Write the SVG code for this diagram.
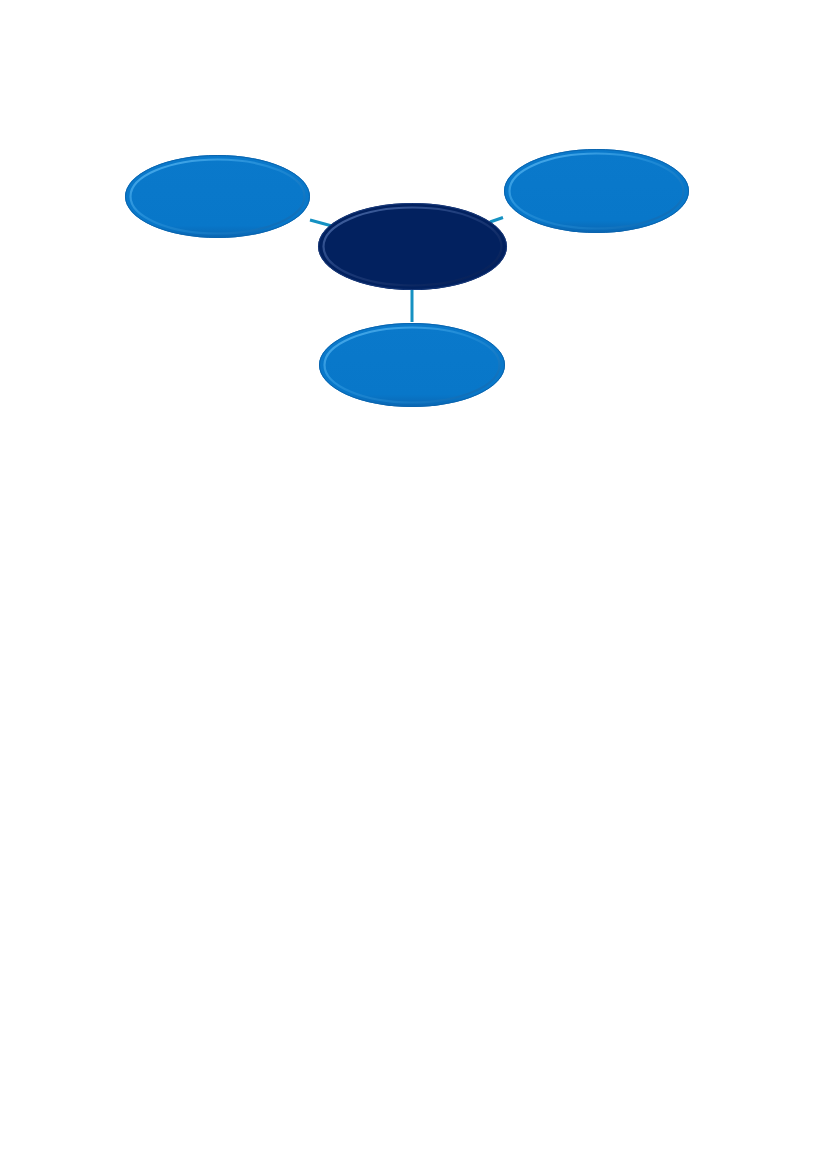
<svg xmlns="http://www.w3.org/2000/svg" width="827" height="1169" viewBox="0 0 827 1169">
<style>
.conn{stroke:#1591C2;stroke-width:3;fill:none;stroke-linecap:butt}
.light{fill:#0877C9}
.dark{fill:#02215F}
.lightEdge{fill:none;stroke:#0A64AE;stroke-width:1}
.darkEdge{fill:none;stroke:#1A3A7A;stroke-width:1}
.bevL{fill:none;stroke:url(#bevLight);stroke-width:2.2}
.bevD{fill:none;stroke:url(#bevDark);stroke-width:2.2}
</style>
<defs>
<linearGradient id="bevLight" x1="0" y1="0" x2="1" y2="1">
<stop offset="0" stop-color="#4FB0EE"/>
<stop offset="0.45" stop-color="#1E8AD6"/>
<stop offset="1" stop-color="#0B66B0"/>
</linearGradient>
<linearGradient id="bevDark" x1="0" y1="0" x2="1" y2="1">
<stop offset="0" stop-color="#4A6AA8"/>
<stop offset="0.45" stop-color="#1C3A78"/>
<stop offset="1" stop-color="#011A50"/>
</linearGradient>
<linearGradient id="shadeL" x1="0" y1="0" x2="0" y2="1">
<stop offset="0" stop-color="#0A79CB"/>
<stop offset="0.85" stop-color="#0877C9"/>
<stop offset="1" stop-color="#0A66B2"/>
</linearGradient>
</defs>
<g id="connectors">
<line class="conn" x1="310" y1="220" x2="332" y2="226"/>
<line class="conn" x1="490" y1="222" x2="503" y2="217.5"/>
<line class="conn" x1="412" y1="290" x2="412" y2="322"/>
</g>
<g id="node-left">
<ellipse cx="217.5" cy="196.5" rx="92.5" ry="41.5" fill="url(#shadeL)"/>
<ellipse class="lightEdge" cx="217.5" cy="196.5" rx="92" ry="41"/>
<ellipse class="bevL" cx="217.5" cy="196.5" rx="87" ry="37"/>
</g>
<g id="node-right">
<ellipse cx="596.5" cy="191" rx="92.5" ry="42" fill="url(#shadeL)"/>
<ellipse class="lightEdge" cx="596.5" cy="191" rx="92" ry="41.5"/>
<ellipse class="bevL" cx="596.5" cy="191" rx="87" ry="37.5"/>
</g>
<g id="node-center">
<ellipse class="dark" cx="412.5" cy="246.5" rx="94.5" ry="43.5"/>
<ellipse class="darkEdge" cx="412.5" cy="246.5" rx="94" ry="43"/>
<ellipse class="bevD" cx="412.5" cy="246.5" rx="89" ry="39"/>
</g>
<g id="node-bottom">
<ellipse cx="412" cy="365" rx="93" ry="42" fill="url(#shadeL)"/>
<ellipse class="lightEdge" cx="412" cy="365" rx="92.5" ry="41.5"/>
<ellipse class="bevL" cx="412" cy="365" rx="87.5" ry="37.5"/>
</g>
</svg>
